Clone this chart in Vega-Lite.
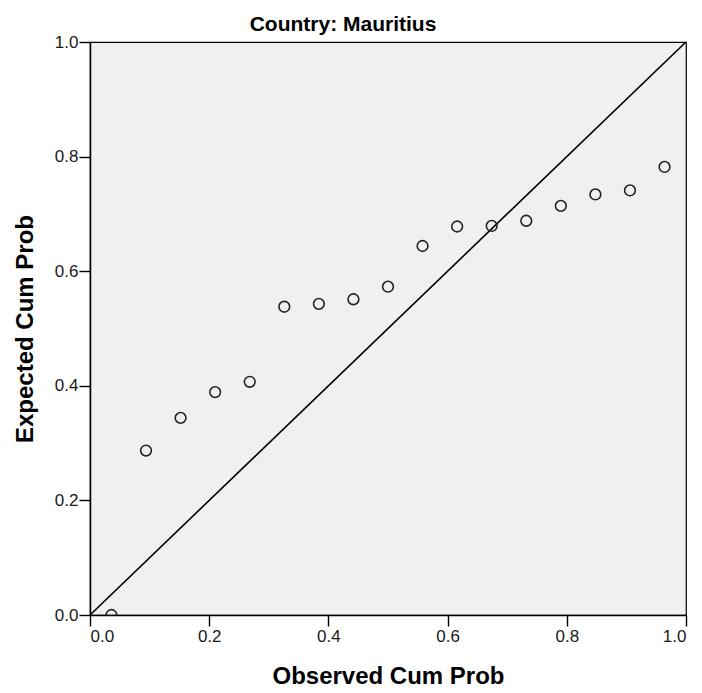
{
  "$schema": "https://vega.github.io/schema/vega-lite/v6.json",
  "width": 596,
  "height": 573,
  "autosize": {"type": "none"},
  "padding": {"left": 90, "top": 42, "right": 16, "bottom": 78},
  "background": "white",
  "title": {
    "text": "Country: Mauritius",
    "font": "Liberation Sans",
    "fontSize": 21,
    "fontWeight": "bold",
    "color": "#000000",
    "anchor": "middle",
    "frame": "group",
    "dx": -45,
    "offset": -2
  },
  "config": {
    "view": {"fill": "#F0F0F0", "stroke": "#000000", "strokeWidth": 1.2},
    "axis": {
      "grid": false,
      "domainColor": "#000000",
      "domainWidth": 1.5,
      "tickColor": "#000000",
      "tickSize": 11,
      "tickWidth": 1.4,
      "labelFont": "Liberation Sans",
      "labelFontSize": 17,
      "labelColor": "#1a1a1a",
      "titleFont": "Liberation Sans",
      "titleFontSize": 24,
      "titleFontWeight": "bold",
      "titleColor": "#000000"
    }
  },
  "datasets": {
    "points": [
      {"observed": 0.036, "expected": 0.0},
      {"observed": 0.094, "expected": 0.287},
      {"observed": 0.152, "expected": 0.344},
      {"observed": 0.210, "expected": 0.389},
      {"observed": 0.268, "expected": 0.407},
      {"observed": 0.326, "expected": 0.538},
      {"observed": 0.384, "expected": 0.543},
      {"observed": 0.442, "expected": 0.551},
      {"observed": 0.500, "expected": 0.573},
      {"observed": 0.558, "expected": 0.644},
      {"observed": 0.616, "expected": 0.678},
      {"observed": 0.674, "expected": 0.679},
      {"observed": 0.732, "expected": 0.688},
      {"observed": 0.790, "expected": 0.714},
      {"observed": 0.848, "expected": 0.734},
      {"observed": 0.906, "expected": 0.741},
      {"observed": 0.964, "expected": 0.782}
    ],
    "diag": [
      {"observed": 0, "expected": 0},
      {"observed": 1, "expected": 1}
    ]
  },
  "layer": [
    {
      "data": {"name": "diag"},
      "mark": {"type": "line", "color": "#000000", "strokeWidth": 1.6, "clip": true},
      "encoding": {
        "x": {
          "field": "observed", "type": "quantitative",
          "scale": {"domain": [0, 1], "nice": false, "zero": false},
          "axis": {"title": "Observed Cum Prob", "values": [0, 0.2, 0.4, 0.6, 0.8, 1.0], "format": ".1f", "labelPadding": 2, "titlePadding": 20}
        },
        "y": {
          "field": "expected", "type": "quantitative",
          "scale": {"domain": [0, 1], "nice": false, "zero": false},
          "axis": {"title": "Expected Cum Prob", "values": [0, 0.2, 0.4, 0.6, 0.8, 1.0], "format": ".1f", "labelPadding": 1, "titlePadding": 17}
        }
      }
    },
    {
      "data": {"name": "points"},
      "mark": {"type": "point", "shape": "circle", "filled": false, "color": "#222222", "strokeWidth": 1.6, "size": 115, "clip": true, "opacity": 1},
      "encoding": {
        "x": {"field": "observed", "type": "quantitative"},
        "y": {"field": "expected", "type": "quantitative"}
      }
    }
  ]
}
